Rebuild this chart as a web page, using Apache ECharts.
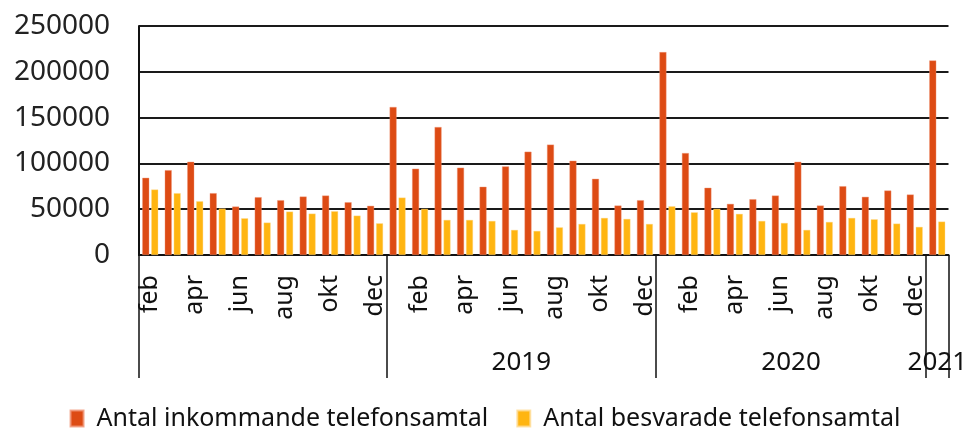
<!DOCTYPE html>
<html>
<head>
<meta charset="utf-8">
<script src="https://cdn.jsdelivr.net/npm/echarts@6/dist/echarts.min.js"></script>
<style>
html,body{margin:0;padding:0;background:#fff;}
#c{width:970px;height:430px;}
</style>
</head>
<body>
<div id="c"></div>
<script>
// Months (Swedish abbreviations), Feb 2018 .. Jan 2021
const months = [
  'feb','mar','apr','maj','jun','jul','aug','sep','okt','nov','dec',
  'jan','feb','mar','apr','maj','jun','jul','aug','sep','okt','nov','dec',
  'jan','feb','mar','apr','maj','jun','jul','aug','sep','okt','nov','dec',
  'jan'
];
const years = [
  '2018','2018','2018','2018','2018','2018','2018','2018','2018','2018','2018',
  '2019','2019','2019','2019','2019','2019','2019','2019','2019','2019','2019','2019',
  '2020','2020','2020','2020','2020','2020','2020','2020','2020','2020','2020','2020',
  '2021'
];
const yearLabels = ['', '2019', '2020', '2021'];
const seriesNames = ['Antal inkommande telefonsamtal', 'Antal besvarade telefonsamtal'];
const incoming = [
  84300, 92600, 101800, 67500, 52900, 63100, 59800, 63800, 64900, 57600, 53700,
  161600, 94200, 139700, 95300, 74500, 96700, 112800, 120500, 102900, 83200, 54000, 59800,
  221500, 111300, 73400, 55800, 60900, 64900, 101800, 54000, 75100, 63500, 70400, 66000,
  212400
];
const answered = [
  71500, 67500, 58700, 50700, 40100, 35400, 47400, 45200, 47800, 43000, 34600,
  62700, 50400, 38300, 38300, 37200, 27400, 26300, 30200, 33900, 40500, 39400, 33900,
  53200, 46600, 50400, 44900, 37200, 35000, 27400, 36100, 40500, 39000, 34300, 30700,
  36500
];
const yTicks = [0, 50000, 100000, 150000, 200000, 250000];

// indices where a new year group starts (separator lines)
const groupStarts = [];
years.forEach((y, i) => { if (i === 0 || years[i - 1] !== y) groupStarts.push(i); });
// centers of year groups in band units
const groupCenters = {};
groupStarts.forEach((s, gi) => {
  const e = gi + 1 < groupStarts.length ? groupStarts[gi + 1] : years.length;
  groupCenters[(s + e) / 2] = years[s];
});
const shownYears = new Set(yearLabels.filter(Boolean));

const FONT = "'Noto Sans', 'Open Sans', sans-serif";
const chart = echarts.init(document.getElementById('c'), null, {renderer: 'canvas'});
chart.setOption({
  animation: false,
  backgroundColor: '#fff',
  grid: {left: 139, right: 21, top: 26, bottom: 175, containLabel: false},
  legend: {
    bottom: -6,
    left: 'center',
    itemWidth: 13,
    itemHeight: 16,
    itemGap: 28,
    icon: 'rect',
    textStyle: {fontFamily: FONT, fontSize: 25, color: '#111', padding: [0, 0, 0, 8]},
    data: seriesNames
  },
  xAxis: [
    {
      type: 'category',
      data: months,
      boundaryGap: true,
      axisLine: {show: true, lineStyle: {color: '#111', width: 2}},
      axisTick: {
        show: true,
        length: 123,
        interval: (idx) => groupStarts.includes(idx),
        lineStyle: {color: '#111', width: 1.5}
      },
      axisLabel: {
        interval: 1,
        rotate: 90,
        margin: 20,
        fontFamily: FONT,
        fontSize: 25,
        color: '#111'
      },
      splitLine: {show: false}
    },
    {
      type: 'value',
      min: 0,
      max: years.length,
      interval: 0.5,
      position: 'bottom',
      axisLine: {show: false},
      axisTick: {show: false},
      splitLine: {show: false},
      axisLabel: {
        margin: 95,
        fontFamily: FONT,
        fontSize: 26,
        color: '#111',
        showMinLabel: true,
        showMaxLabel: true,
        formatter: (v) => {
          const y = groupCenters[v];
          return y && shownYears.has(y) ? y : '';
        }
      }
    }
  ],
  yAxis: {
    type: 'value',
    min: 0,
    max: 250000,
    interval: 50000,
    axisLine: {show: true, lineStyle: {color: '#111', width: 2}},
    axisTick: {show: false},
    axisLabel: {
      margin: 29,
      fontFamily: FONT,
      fontSize: 28,
      color: '#222',
      formatter: (v) => yTicks.includes(v) ? String(v) : ''
    },
    splitLine: {show: true, lineStyle: {color: '#1a1a1a', width: 2}}
  },
  series: [
    {
      name: seriesNames[0],
      type: 'bar',
      xAxisIndex: 0,
      data: incoming,
      barWidth: 7,
      barGap: '28%',
      itemStyle: {color: '#DD4B14', borderColor: 'rgba(240,150,120,0.8)', borderWidth: 0.5}
    },
    {
      name: seriesNames[1],
      type: 'bar',
      xAxisIndex: 0,
      data: answered,
      barWidth: 7,
      itemStyle: {color: '#FFB511', borderColor: 'rgba(255,220,150,0.8)', borderWidth: 0.5}
    }
  ]
});
</script>
</body>
</html>
